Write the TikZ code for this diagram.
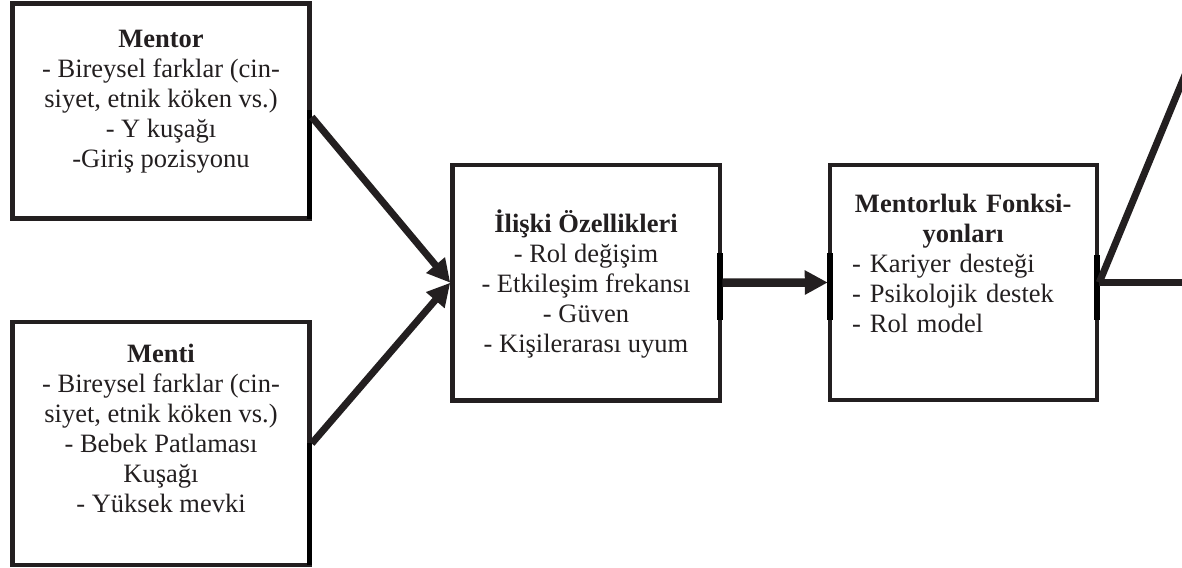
\documentclass[tikz,border=0pt]{standalone}
\usepackage{fontspec}
\setmainfont{Liberation Serif}
\usetikzlibrary{arrows.meta,calc}
\definecolor{ink}{HTML}{231F20}
\newcommand\tstrut{\rule{0pt}{25pt}}
\tikzset{
  box/.style={draw=ink, line width=4.5pt, inner sep=0pt, fill=white},
  txt/.style={inner sep=0pt, font=\fontsize{26.5}{30}\selectfont, text=ink},
  seg/.style={draw=black, line width=6pt},
  conn/.style={draw=ink, line width=7pt, -{Triangle[length=23pt,width=23pt]}},
  plainline/.style={draw=ink, line width=7pt},
}
\begin{document}
\begin{tikzpicture}[x=1pt,y=-1pt]
\clip (0,0) rectangle (1182,567);
\fill[white] (0,0) rectangle (1182,567);

% boxes
\node[box, minimum width=297pt, minimum height=215pt] (mentor) at (161,111) {};
\node[box, minimum width=297pt, minimum height=243pt] (menti) at (161,443.5) {};
\node[box, minimum width=267.5pt, minimum height=235.5pt] (rel) at (586.25,282.75) {};
\node[box, minimum width=267pt, minimum height=235pt] (func) at (963.5,282.5) {};

% texts
\node[txt, anchor=north, align=center] (mentortxt) at (161,22)
  {\tstrut\textbf{Mentor}\\- Bireysel farklar (cin-\\siyet, etnik köken vs.)\\- Y kuşağı\\-Giriş pozisyonu};
\node[txt, anchor=north, align=center] (mentitxt) at (161,337)
  {\tstrut\textbf{Menti}\\- Bireysel farklar (cin-\\siyet, etnik köken vs.)\\- Bebek Patlaması\\Kuşağı\\- Yüksek mevki};
\node[txt, anchor=north, align=center] (reltxt) at (586,207)
  {\tstrut\textbf{İlişki Özellikleri}\\- Rol değişim\\- Etkileşim frekansı\\- Güven\\- Kişilerarası uyum};
\node[txt, anchor=north west, text width=222pt, align=left] (functxt) at (852,187)
  {{\centering\bfseries\tstrut Mentorluk Fonksi-\\yonları\par}
   - Kariyer desteği\\- Psikolojik destek\\- Rol model};

% connection-site marks on edges
\draw[seg, line width=5.5pt] (309.5,110) -- (309.5,218.5);
\draw[seg, line width=5.5pt] (309.5,443) -- (309.5,565);
\draw[seg] (720,253) -- (720,320);
\draw[seg] (830,253) -- (830,320);
\draw[seg] (1097,255) -- (1097,320);

% free ends
\coordinate (outup) at (1216,0);
\coordinate (outright) at (1200,282.5);

% connectors
\draw[conn] ($(mentor.east)+(0,6)$) -- (rel.west);
\draw[conn] (menti.east) -- (rel.west);
\draw[conn, line width=8.5pt] (rel.east) -- (func.west);
\draw[plainline] (func.east) -- (outup);
\draw[plainline] (func.east) -- (outright);
\end{tikzpicture}
\end{document}
